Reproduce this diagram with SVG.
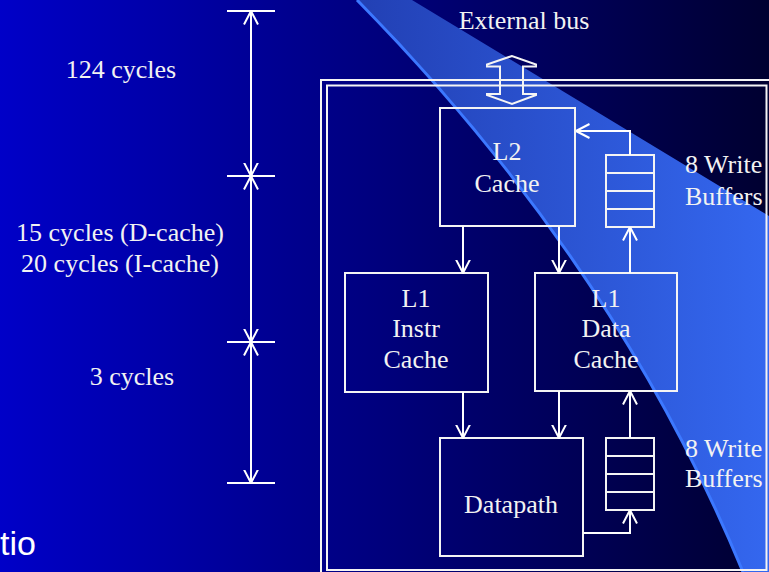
<svg xmlns="http://www.w3.org/2000/svg" width="769" height="572" viewBox="0 0 769 572">
<defs>
<linearGradient id="bg" x1="0" y1="0" x2="769" y2="0" gradientUnits="userSpaceOnUse">
<stop offset="0" stop-color="#0000c8"/>
<stop offset="1" stop-color="#000030"/>
</linearGradient>
<linearGradient id="band" x1="357" y1="0" x2="769" y2="0" gradientUnits="userSpaceOnUse">
<stop offset="0" stop-color="#2240b4"/>
<stop offset="1" stop-color="#3467ef"/>
</linearGradient>
<marker id="ah" viewBox="0 0 14 16" refX="13.5" refY="8" markerWidth="14" markerHeight="16" markerUnits="userSpaceOnUse" orient="auto-start-reverse">
<path d="M0,1 L13.5,8 L0,15" fill="none" stroke="#ffffff" stroke-width="2"/>
</marker>
</defs>
<style>
.ln{fill:none;stroke:#ffffff;stroke-width:2}
.bx{fill:none;stroke:#f4f4f4;stroke-width:2}
.t{font-family:"Liberation Serif","Times New Roman",serif;font-size:26px;fill:#f2f2f2}
.m{text-anchor:middle}
</style>
<rect x="0" y="0" width="769" height="572" fill="url(#bg)"/>
<path d="M357,0 L412,0 L769,216 L769,572 L743,572 Q615,262 357,0 Z" fill="url(#band)"/>
<path d="M357,0 Q615,262 743,572" fill="none" stroke="#3c78ff" stroke-width="3"/>
<text x="0" y="555" font-family="Liberation Sans, Arial, sans-serif" font-size="34" fill="#ffffff">tio</text>

<g id="dimensions">
<line class="ln" x1="227" y1="11" x2="275" y2="11"/>
<line class="ln" x1="227" y1="176" x2="275" y2="176"/>
<line class="ln" x1="227" y1="342" x2="275" y2="342"/>
<line class="ln" x1="227" y1="483" x2="275" y2="483"/>
<line class="ln" x1="251" y1="11" x2="251" y2="176" marker-start="url(#ah)" marker-end="url(#ah)"/>
<line class="ln" x1="251" y1="176" x2="251" y2="342" marker-start="url(#ah)" marker-end="url(#ah)"/>
<line class="ln" x1="251" y1="342" x2="251" y2="483" marker-start="url(#ah)" marker-end="url(#ah)"/>
<text class="t m" x="121" y="78">124 cycles</text>
<text class="t m" x="120" y="241">15 cycles (D-cache)</text>
<text class="t m" x="120" y="272">20 cycles (I-cache)</text>
<text class="t m" x="132" y="385">3 cycles</text>
</g>

<g id="frame">
<rect class="bx" x="321" y="80" width="452" height="498"/>
<rect class="bx" x="327" y="85.5" width="439.5" height="484.5"/>
</g>

<g id="external-bus">
<text class="t m" x="524" y="29">External bus</text>
<path class="bx" d="M512,56 L487,64.5 L487,66.5 L500,66.5 L500,94 L487,94 L487,95 L512,104 L536,95 L536,94 L523,94 L523,66.5 L536,66.5 L536,64.5 Z"/>
</g>

<g id="l2-cache">
<rect class="bx" x="440" y="108" width="135" height="118"/>
<text class="t m" x="507" y="160">L2</text>
<text class="t m" x="507" y="192">Cache</text>
</g>

<g id="l1-instr-cache">
<rect class="bx" x="345" y="273" width="143" height="119"/>
<text class="t m" x="416" y="307">L1</text>
<text class="t m" x="416" y="337">Instr</text>
<text class="t m" x="416" y="368">Cache</text>
</g>

<g id="l1-data-cache">
<rect class="bx" x="535" y="273" width="142" height="118"/>
<text class="t m" x="606" y="307">L1</text>
<text class="t m" x="606" y="337">Data</text>
<text class="t m" x="606" y="368">Cache</text>
</g>

<g id="datapath">
<rect class="bx" x="440" y="438" width="143" height="118"/>
<text class="t m" x="511" y="513">Datapath</text>
</g>

<g id="write-buffers-top">
<rect class="bx" x="606" y="155" width="48" height="72"/>
<line class="bx" x1="606" y1="173" x2="654" y2="173"/>
<line class="bx" x1="606" y1="191" x2="654" y2="191"/>
<line class="bx" x1="606" y1="209" x2="654" y2="209"/>
<text class="t" x="685" y="173">8 Write</text>
<text class="t" x="685" y="205">Buffers</text>
</g>

<g id="write-buffers-bottom">
<rect class="bx" x="606" y="438" width="48" height="72"/>
<line class="bx" x1="606" y1="456" x2="654" y2="456"/>
<line class="bx" x1="606" y1="474" x2="654" y2="474"/>
<line class="bx" x1="606" y1="492" x2="654" y2="492"/>
<text class="t" x="685" y="457">8 Write</text>
<text class="t" x="685" y="487">Buffers</text>
</g>

<g id="connectors">
<line class="ln" x1="463" y1="226" x2="463" y2="273" marker-end="url(#ah)"/>
<line class="ln" x1="559" y1="226" x2="559" y2="273" marker-end="url(#ah)"/>
<line class="ln" x1="463" y1="392" x2="463" y2="438" marker-end="url(#ah)"/>
<line class="ln" x1="559" y1="391" x2="559" y2="438" marker-end="url(#ah)"/>
<line class="ln" x1="630" y1="273" x2="630" y2="227" marker-end="url(#ah)"/>
<polyline class="ln" points="630,155 630,131 576,131" marker-end="url(#ah)"/>
<line class="ln" x1="630" y1="438" x2="630" y2="391" marker-end="url(#ah)"/>
<polyline class="ln" points="583,533 630,533 630,510" marker-end="url(#ah)"/>
</g>
</svg>
